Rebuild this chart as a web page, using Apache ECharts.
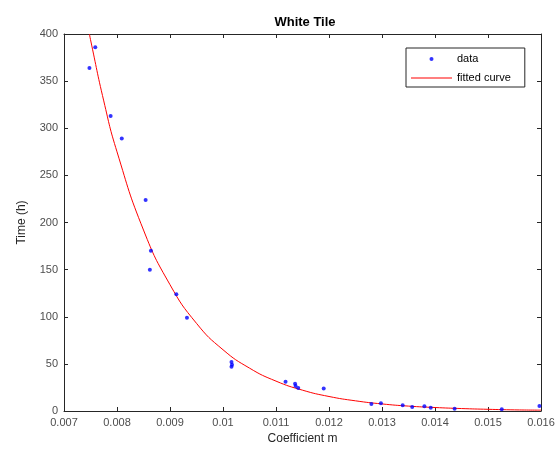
<!DOCTYPE html>
<html><head><meta charset="utf-8">
<script src="https://cdn.jsdelivr.net/npm/echarts@6/dist/echarts.min.js"></script>
<style>html,body{margin:0;padding:0;background:#fff}#c{width:559px;height:457px}</style>
</head><body><div id="c"></div>
<script>
const dataX = [0.00748,0.00759,0.00788,0.00809,0.00854,0.00862,0.00864,0.00912,0.00932,0.01016,0.01017,0.01016,0.01118,0.01136,0.01137,0.01142,0.0119,0.0128,0.01298,0.01339,0.01357,0.0138,0.01392,0.01437,0.01526,0.01597];
const dataY = [364,386,313,289,224,150,170,124,99,52,49,47,31,29,26.5,24.5,24,7.4,8.1,6,4.2,5,3.5,2.4,1.8,5.3];
const curveX = [0.00748,0.0075,0.00775,0.0080,0.0085,0.0090,0.0095,0.0100,0.0105,0.0110,0.0115,0.0120,0.0125,0.0130,0.0135,0.0140,0.0145,0.0150,0.0155,0.0160];
const curveY = [400,394,329,275,192,134,93,65,45.5,31.7,22.1,15.4,10.8,7.5,5.2,3.7,2.6,1.8,1.2,0.9];
const title = 'White Tile';
const xName = 'Coefficient m';
const yName = 'Time (h)';

const font = 'Arial, "Liberation Sans", Helvetica, sans-serif';
const axisColor = '#262626';
const chart = echarts.init(document.getElementById('c'));
const fmtX = v => String(parseFloat(v.toFixed(3)));
const baseX = {
  type:'value', min:0.007, max:0.016, interval:0.001,
  axisLine:{show:true,onZero:false,lineStyle:{color:axisColor,width:1}},
  axisTick:{show:true,inside:true,length:4,lineStyle:{color:axisColor}},
  splitLine:{show:false}
};
const baseY = {
  type:'value', min:0, max:400, interval:50,
  axisLine:{show:true,onZero:false,lineStyle:{color:axisColor,width:1}},
  axisTick:{show:true,inside:true,length:4,lineStyle:{color:axisColor}},
  splitLine:{show:false}
};
chart.setOption({
  animation:false,
  backgroundColor:'#fff',
  title:{text:title,left:300,top:11,textAlign:'center',textStyle:{fontFamily:font,fontSize:13,fontWeight:'bold',color:'#000'}},
  grid:{left:64,right:18,top:34,bottom:46},
  legend:{
    left:406,top:48,orient:'vertical',itemGap:5,itemWidth:41,itemHeight:4,
    padding:[4,14,2,5],borderColor:'#262626',borderWidth:1,backgroundColor:'#fff',
    textStyle:{fontFamily:font,fontSize:11,color:'#000',lineHeight:14},
    data:[
      {name:'data',icon:'circle',itemStyle:{color:'#0000ff'}},
      {name:'fitted curve',icon:'path://M0,0L41,0L41,1L0,1Z',itemStyle:{color:'#ff0000'}}
    ]
  },
  xAxis:[
    Object.assign({},baseX,{position:'bottom',name:xName,nameLocation:'middle',nameGap:20,
      nameTextStyle:{fontFamily:font,fontSize:12,color:'#262626'},
      axisLabel:{formatter:fmtX,fontFamily:font,fontSize:11,color:'#4d4d4d',margin:6}}),
    Object.assign({},baseX,{position:'top',axisLabel:{show:false}})
  ],
  yAxis:[
    Object.assign({},baseY,{position:'left',name:yName,nameLocation:'middle',nameGap:36,
      nameTextStyle:{fontFamily:font,fontSize:12,color:'#262626'},
      axisLabel:{fontFamily:font,fontSize:11,color:'#4d4d4d',margin:6}}),
    Object.assign({},baseY,{position:'right',axisLabel:{show:false}})
  ],
  series:[
    {name:'data',type:'scatter',symbol:'circle',symbolSize:4,itemStyle:{color:'#0000ff'},
     data:dataX.map((x,i)=>[x,dataY[i]]),z:3},
    {name:'fitted curve',type:'line',smooth:true,showSymbol:false,symbol:'none',
     lineStyle:{color:'#ff0000',width:1},itemStyle:{color:'#ff0000'},
     data:curveX.map((x,i)=>[x,curveY[i]]),z:2,clip:true}
  ]
});
</script></body></html>
